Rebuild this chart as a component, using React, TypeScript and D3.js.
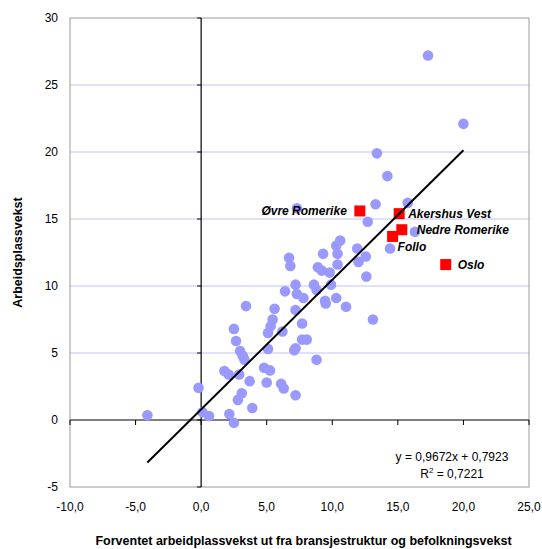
import React from "react";
import * as d3 from "d3";

// Municipalities (blue points): expected growth (x) vs actual growth (y)
const expectedGrowth: number[] = [
  20.0, 17.3, 13.4, 14.2, 13.3, 15.75, 12.7, 16.3, 14.4, 7.3,
  6.7, 6.8, 9.3, 10.6, 10.3, 10.4, 8.9, 9.2, 9.8, 10.4,
  11.9, 12.0, 12.55, 12.6, 7.2, 6.4, 7.3, 7.8, 8.6, 8.8,
  9.9, 9.45, 9.5, 10.3, 11.05, 13.1, 5.6, 7.2, 5.45, 5.3,
  5.1, 6.2, 7.7, 7.7, 8.05, 7.2, 7.1, 5.1, 8.8, 4.8,
  5.25, 3.7, 5.0, 6.1, 6.3, 7.2, 3.9, 3.42, 2.5, 2.66,
  2.97, 3.17, 3.3, 1.77, 2.1, 2.9, 3.1, 2.8, -0.2, 0.1,
  0.6, 2.15, 2.5, -4.1,
];
const actualGrowth: number[] = [
  22.1, 27.2, 19.9, 18.2, 16.1, 16.2, 14.8, 14.05, 12.8, 15.8,
  12.1, 11.5, 12.4, 13.4, 13.0, 12.4, 11.4, 11.15, 11.0, 11.6,
  12.8, 11.8, 12.2, 10.7, 10.1, 9.6, 9.4, 9.1, 10.1, 9.7,
  10.1, 8.9, 8.7, 9.1, 8.45, 7.5, 8.3, 8.2, 7.5, 7.0,
  6.5, 6.6, 7.2, 6.0, 6.0, 5.35, 5.2, 5.3, 4.5, 3.9,
  3.7, 2.9, 2.8, 2.7, 2.35, 1.85, 0.9, 8.5, 6.8, 5.9,
  5.15, 4.8, 4.5, 3.65, 3.4, 3.4, 2.0, 1.5, 2.4, 0.57,
  0.3, 0.45, -0.2, 0.35,
];

// Highlighted regions (red squares)
const regionNames: string[] = ["Øvre Romerike", "Akershus Vest", "Nedre Romerike", "Follo", "Oslo"];
const regionExpected: number[] = [12.1, 15.1, 15.3, 14.6, 18.65];
const regionActual: number[] = [15.6, 15.4, 14.2, 13.7, 11.6];

// Trendline
const slope = 0.9672;
const intercept = 0.7923;
const trendXRange: number[] = [-4.1, 20.0];
const equationText = "y = 0,9672x + 0,7923";
const r2Value = "0,7221";

const xTicks: number[] = [-10, -5, 0, 5, 10, 15, 20, 25];
const yTicks: number[] = [-5, 0, 5, 10, 15, 20, 25, 30];
const xTitle = "Forventet arbeidplassvekst ut fra bransjestruktur og befolkningsvekst";
const yTitle = "Arbeidsplassvekst";

// Label placement (style)
const labelOffsets: { dx: number; dy: number; anchor: string }[] = [
  { dx: -13, dy: 4, anchor: "end" },
  { dx: 9, dy: 4, anchor: "start" },
  { dx: 15, dy: 4, anchor: "start" },
  { dx: 5, dy: 15, anchor: "start" },
  { dx: 12, dy: 4.5, anchor: "start" },
];

const W = 542;
const H = 549;
const left = 70, right = 529, top = 18, bottom = 487;
const FONT = "Liberation Sans, Arial, sans-serif";

export default function App() {
  const x = d3.scaleLinear().domain([-10, 25]).range([left, right]);
  const y = d3.scaleLinear().domain([-5, 30]).range([bottom, top]);
  const fmt = (v: number) => d3.format(".1f")(v).replace(".", ",").replace("\u2212", "-");
  const trend = d3.line<number>().x((v) => x(v)).y((v) => y(slope * v + intercept));
  const gridVals = yTicks.filter((v) => v > 0 && v < 30);

  return (
    <svg width={W} height={H} style={{ position: "absolute", left: 0, top: 0 }} fontFamily={FONT}>
      <rect x={0} y={0} width={W} height={H} fill="#fff" />
      {gridVals.map((v) => (
        <line key={"g" + v} x1={left} x2={right} y1={y(v)} y2={y(v)} stroke="#d6d6f6" strokeWidth={1.3} />
      ))}
      <rect x={left} y={top} width={right - left} height={bottom - top} fill="none" stroke="#9a9a9a" strokeWidth={1} />
      {/* axes through origin */}
      <line x1={x(0)} x2={x(0)} y1={top} y2={bottom} stroke="#000" strokeWidth={1.2} />
      <line x1={left} x2={right} y1={y(0)} y2={y(0)} stroke="#000" strokeWidth={1.2} />
      {yTicks.map((v) => (
        <line key={"yt" + v} x1={x(0) - 4} x2={x(0)} y1={y(v)} y2={y(v)} stroke="#000" strokeWidth={1} />
      ))}
      {xTicks.map((v) => (
        <line key={"xt" + v} x1={x(v)} x2={x(v)} y1={y(0)} y2={y(0) + 5} stroke="#000" strokeWidth={1} />
      ))}
      {yTicks.map((v) => (
        <text key={"yl" + v} x={left - 12} y={y(v)} dy="0.35em" textAnchor="end" fontSize={12} fill="#000">
          {v}
        </text>
      ))}
      {xTicks.map((v) => (
        <text key={"xl" + v} x={x(v)} y={507} dy="0.35em" textAnchor="middle" fontSize={12} fill="#000">
          {fmt(v)}
        </text>
      ))}
      {expectedGrowth.map((v, i) => (
        <circle key={"c" + i} cx={x(v)} cy={y(actualGrowth[i])} r={5.3} fill="#9999ff" />
      ))}
      {regionNames.map((n, i) => (
        <rect key={"s" + i} x={x(regionExpected[i]) - 5.5} y={y(regionActual[i]) - 5.5} width={11} height={11} fill="#ff0000" />
      ))}
      {regionNames.map((n, i) => (
        <text
          key={"n" + i}
          x={x(regionExpected[i]) + labelOffsets[i].dx}
          y={y(regionActual[i]) + labelOffsets[i].dy}
          textAnchor={labelOffsets[i].anchor as any}
          fontSize={12}
          fontWeight="bold"
          fontStyle="italic"
          fill="#000"
        >
          {n}
        </text>
      ))}
      <path d={trend(trendXRange) || ""} fill="none" stroke="#000" strokeWidth={2} />
      <text x={452} y={461} textAnchor="middle" fontSize={12} fill="#000">{equationText}</text>
      <text x={452} y={478} textAnchor="middle" fontSize={12} fill="#000">
        R<tspan dy={-5} fontSize={8}>2</tspan><tspan dy={5}> = {r2Value}</tspan>
      </text>
      <text x={(left + right) / 2 + 4} y={545} textAnchor="middle" fontSize={12.5} fontWeight="bold" fill="#000">
        {xTitle}
      </text>
      <text
        transform={`translate(22, ${(top + bottom) / 2}) rotate(-90)`}
        textAnchor="middle"
        fontSize={12.5}
        fontWeight="bold"
        fill="#000"
      >
        {yTitle}
      </text>
    </svg>
  );
}
